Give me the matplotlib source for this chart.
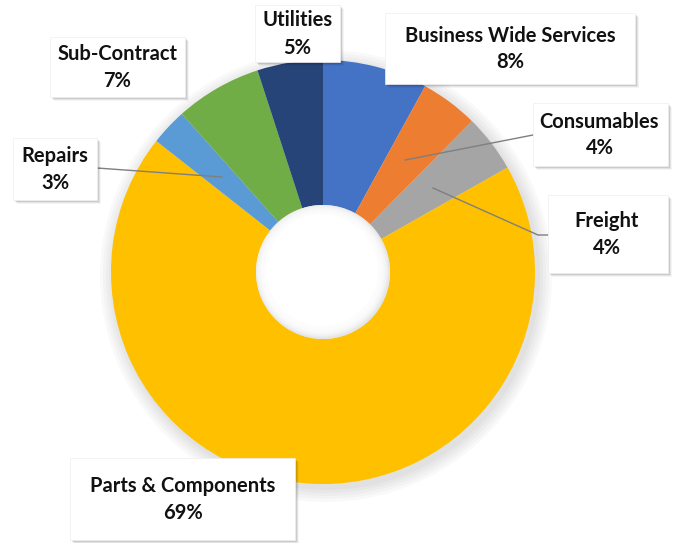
import matplotlib.pyplot as plt
from matplotlib.patches import Rectangle, Circle

plt.rcParams['font.family'] = ['Lato', 'DejaVu Sans']

categories = ['Business Wide Services', 'Consumables', 'Freight', 'Parts & Components',
              'Repairs', 'Sub-Contract', 'Utilities']
shares = [8.0, 4.4, 4.4, 68.8, 2.8, 6.6, 5.0]
shown_pct = ['8%', '4%', '4%', '69%', '3%', '7%', '5%']
colors = ['#4472C4', '#ED7D31', '#A5A5A5', '#FFC000', '#5B9BD5', '#70AD47', '#264478']

W, H = 679, 543
fig = plt.figure(figsize=(W / 100, H / 100), dpi=100)
ax = fig.add_axes([0, 0, 1, 1])

def Y(y):
    # pixel row from the top -> data y
    return H - y

cx, cy, R = 323, 272, 212

# soft shadow behind the ring
for i in range(5):
    ax.add_patch(Circle((cx + 3, Y(cy + 4)), R + 2 + i * 3, color='black', alpha=0.025, lw=0, zorder=0))

ax.pie(shares, colors=colors, startangle=90, counterclock=False,
       center=(cx, Y(cy)), radius=R, frame=True,
       wedgeprops=dict(width=R - 67, linewidth=0))
ax.set_xlim(0, W)
ax.set_ylim(0, H)
ax.set_aspect('equal')
ax.axis('off')

# soft inner shading of the hole
ax.add_patch(Circle((cx, Y(cy)), 67, color='#e6e6e6', lw=0, zorder=3))
for i in range(8):
    ax.add_patch(Circle((cx - 1, Y(cy - 1)), 66 - i * 1.2, color='white', alpha=0.3, lw=0, zorder=3))
ax.add_patch(Circle((cx - 1, Y(cy - 2)), 56, color='white', lw=0, zorder=3))

# label boxes: (x0, y0, x1, y1) in pixels
boxes = {
    'Business Wide Services': (385, 13, 635, 84),
    'Consumables': (533, 103, 668, 166),
    'Freight': (548, 195, 668, 273),
    'Parts & Components': (70, 458, 295, 540),
    'Repairs': (13, 138, 97, 200),
    'Sub-Contract': (50, 37, 185, 97),
    'Utilities': (255, 5, 340, 62),
}

leaders = {
    'Consumables': [(533, 135), (405, 160)],
    'Freight': [(548, 235), (538, 235), (433, 188)],
    'Repairs': [(97, 168), (222, 177)],
}

for name, pts in leaders.items():
    ax.plot([p[0] for p in pts], [Y(p[1]) for p in pts], color='#7f7f7f', lw=1, zorder=4)

for name, pct in zip(categories, shown_pct):
    x0, y0, x1, y1 = boxes[name]
    for k, a in enumerate([0.10, 0.07, 0.04]):
        ax.add_patch(Rectangle((x0 + 2 + k, Y(y1 + 2 + k)), x1 - x0, y1 - y0,
                               facecolor='black', alpha=a, lw=0, zorder=5))
    ax.add_patch(Rectangle((x0, Y(y1)), x1 - x0, y1 - y0, facecolor='white',
                           edgecolor='#eeeeee', lw=0.5, zorder=6))
    xm = (x0 + x1) / 2
    if name in ('Consumables', 'Freight'):
        xm = (x0 + 664) / 2 + 1
    ym = (y0 + y1) / 2
    ax.text(xm, Y(ym - 13), name, ha='center', va='center', fontsize=14.5,
            fontweight='bold', color='#111111', zorder=7)
    ax.text(xm, Y(ym + 14), pct, ha='center', va='center', fontsize=14.5,
            fontweight='bold', color='#111111', zorder=7)

fig.savefig('out.png', dpi=100, facecolor='white')
